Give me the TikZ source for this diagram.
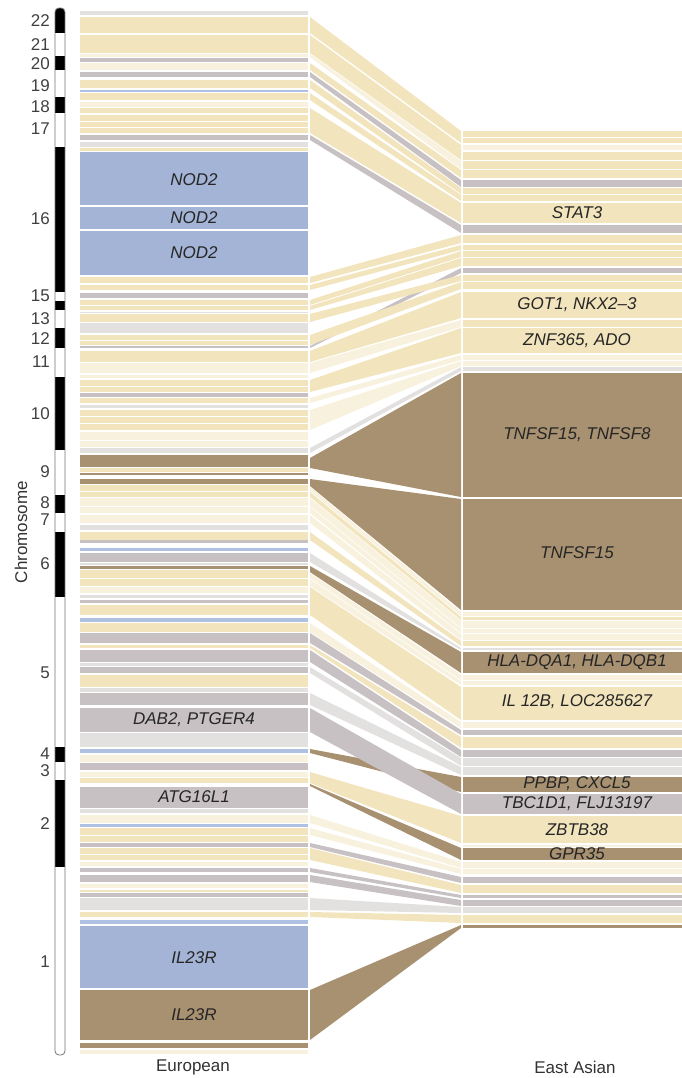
\documentclass[tikz,border=0pt]{standalone}
\usepackage{fontspec}
\setmainfont{Liberation Sans}
\definecolor{bT}{HTML}{F2E5BD}
\definecolor{bC}{HTML}{F8F1DD}
\definecolor{bG}{HTML}{C8C1C3}
\definecolor{bL}{HTML}{E3E0E0}
\definecolor{bB}{HTML}{A3B4D6}
\definecolor{bS}{HTML}{AFC1E2}
\definecolor{bD}{HTML}{A89170}
\begin{document}
\begin{tikzpicture}[x=1pt,y=-1pt,
  gene/.style={font=\fontsize{17}{19}\selectfont\itshape,text=black!85},
  chrnum/.style={font=\fontsize{17}{19}\selectfont,text=black!75,anchor=east,inner sep=0pt},
  colname/.style={font=\fontsize{17}{19}\selectfont,text=black!80}]
\useasboundingbox (0,0) rectangle (682,1078);

% links between the two panels
\foreach \ea/\eb/\aa/\ab/\col in {17/33/131/143/bT,35/53/145/160/bT,54/57/161/169/bC,63/70/170/178/bT,72/77/180/187/bG,
  80/88/188/194/bT,93/100/195/201/bT,108/133/203/223/bT,135/140/225/233/bG,
  277/283/235/243/bT,285/290/245/250/bT,300/305/251/257/bT,306/310/258/266/bT,346/348/268/273/bG,314/322/275/281/bT,
  335/345/282/289/bT,351/362/292/318/bT,363/373/320/327/bC,380/392/328/353/bT,398/403/355/360/bC,410/430/361/366/bC,448/453/367/371/bL,
  487/491/612/616/bC,492/497/617/620/bT,498/506/621/628/bC,507/513/629/633/bC,515/523/634/640/bC,532/540/641/646/bT,553/562/648/650/bL,
  573/578/675/680/bC,579/586/681/685/bC,587/615/687/720/bT,623/632/722/728/bC,633/643/730/735/bG,645/648/737/748/bT,650/662/750/757/bG,
  667/673/758/766/bL,693/705/767/775/bL,749/753/777/792/bD,708/732/794/814/bG,772/783/816/843/bT,784/786/848/860/bD,
  815/823/862/868/bC,828/835/869/874/bC,843/847/877/883/bG,848/860/885/893/bT,868/872/895/898/bG,875/882/900/906/bG,
  898/910/907/913/bL,912/917/915/923/bT,
  458/468/373/497/bD,479/486/499/610/bD,566/572/652/673/bD,990/1040/925/928/bD}
  \fill[\col] (310,\ea) -- (461,\aa) -- (461,\ab) -- (310,\eb) -- cycle;

% European panel
\foreach \ya/\yb/\col in {11/15/bL,17/33/bT,35/53/bT,54/57/bC,58/62/bG,63/70/bC,72/77/bG,80/88/bT,90/92/bS,93/100/bT,
  102/107/bC,108/113/bT,115/121/bT,122/127/bT,128/133/bT,135/140/bG,142/147/bL,148/151/bT,152/205/bB,207/229/bB,231/275/bB,
  277/283/bT,285/290/bT,293/298/bG,300/305/bT,306/310/bT,312/313/bL,314/322/bT,323/333/bL,335/340/bT,341/345/bT,346/348/bG,
  351/362/bT,363/373/bC,375/378/bC,380/386/bT,387/392/bT,393/397/bG,398/403/bT,405/408/bL,410/416/bT,417/423/bT,424/430/bT,
  432/440/bC,441/447/bC,448/453/bL,455/467/bD,468/472/bT,473/475/bD,479/484/bD,485/491/bT,492/497/bT,498/506/bC,507/513/bC,
  515/523/bC,525/530/bL,532/540/bT,540/543/bG,548/551/bS,553/562/bG,563/565/bL,566/569/bD,570/578/bT,579/586/bT,587/593/bC,
  595/598/bL,600/603/bG,605/615/bT,618/622/bS,623/632/bT,633/643/bG,645/648/bT,650/662/bG,663/666/bL,667/673/bG,675/687/bT,
  688/692/bL,693/705/bG,708/732/bG,733/747/bL,749/753/bS,755/762/bC,763/770/bG,772/777/bC,778/783/bT,787/808/bG,809/813/bL,
  815/823/bC,824/827/bS,828/835/bT,836/842/bT,843/847/bG,848/854/bT,855/860/bT,862/866/bC,868/872/bG,875/882/bG,884/888/bC,
  890/892/bT,893/897/bG,898/910/bL,912/917/bT,920/924/bS,926/988/bB,990/1040/bD,1043/1048/bD,1050/1054/bC}
  \fill[\col] (80,\ya) rectangle (308,\yb);

% East Asian panel
\foreach \ya/\yb/\col in {131/137/bT,138/143/bT,145/150/bC,152/160/bT,161/169/bT,170/178/bT,180/187/bG,188/194/bT,195/201/bT,
  203/223/bT,225/233/bG,235/243/bT,245/250/bT,251/257/bT,258/266/bT,268/273/bG,275/281/bT,282/289/bT,292/318/bT,320/327/bT,
  328/353/bT,355/360/bC,361/366/bC,367/371/bL,373/497/bD,499/610/bD,612/616/bC,617/620/bT,621/628/bC,629/633/bC,634/640/bC,
  641/646/bT,648/650/bL,652/673/bD,675/680/bC,681/685/bC,687/720/bT,722/728/bC,730/735/bG,737/748/bT,750/757/bG,758/766/bL,
  767/775/bL,777/792/bD,794/814/bG,816/843/bT,845/847/bC,848/860/bD,862/868/bC,869/874/bC,877/883/bG,885/893/bT,895/898/bG,
  900/906/bG,907/913/bL,915/923/bT,925/928/bD}
  \fill[\col] (463,\ya) rectangle (682,\yb);

% chromosome ideogram
\begin{scope}
\clip[rounded corners=4pt] (55,8) rectangle (65,1055);
\fill[white] (55,8) rectangle (65,1055);
\foreach \ya/\yb in {8/33,56/70,97/113,147/292,301/310,328/348,377/450,495/513,532/597,747/762,780/867}
  \fill[black] (55,\ya) rectangle (65,\yb);
\end{scope}
\draw[black!55,line width=0.8pt,rounded corners=4pt] (55,8) rectangle (65,1055);

\foreach \n/\y in {22/21,21/45,20/64,19/86,18/107,17/129,16/219,15/296,13/319,12/339,11/362,10/414,9/472,8/503,7/520,6/564,5/673,4/754,3/771,2/824,1/962}
  \node[chrnum] (chr\n) at (50,\y) {\n};
\node[colname,rotate=90] (chrlabel) at (21,532) {Chromosome};

% gene labels
\node[gene] (nodA) at (194,180) {NOD2};
\node[gene] (nodB) at (194,218) {NOD2};
\node[gene] (nodC) at (194,253) {NOD2};
\node[gene] (dab) at (194,720) {DAB2, PTGER4};
\node[gene] (atg) at (194,797) {ATG16L1};
\node[gene] (ilA) at (194,958) {IL23R};
\node[gene] (ilB) at (194,1015) {IL23R};
\node[gene] (stat) at (577,213) {STAT3};
\node[gene] (got) at (577,305) {GOT1, NKX2–3};
\node[gene] (znf) at (577,341) {ZNF365, ADO};
\node[gene] (tnfA) at (577,435) {TNFSF15, TNFSF8};
\node[gene] (tnfB) at (577,553) {TNFSF15};
\node[gene] (hla) at (577,662) {HLA-DQA1, HLA-DQB1};
\node[gene] (iltw) at (577,702) {IL 12B, LOC285627};
\node[gene] (ppbp) at (577,784) {PPBP, CXCL5};
\node[gene] (tbc) at (577,804) {TBC1D1, FLJ13197};
\node[gene] (zbtb) at (577,830) {ZBTB38};
\node[gene] (gpr) at (577,854) {GPR35};

\node[colname] (eur) at (193,1067) {European};
\node[colname] (eas) at (575,1067) {East Asian};
\end{tikzpicture}
\end{document}
